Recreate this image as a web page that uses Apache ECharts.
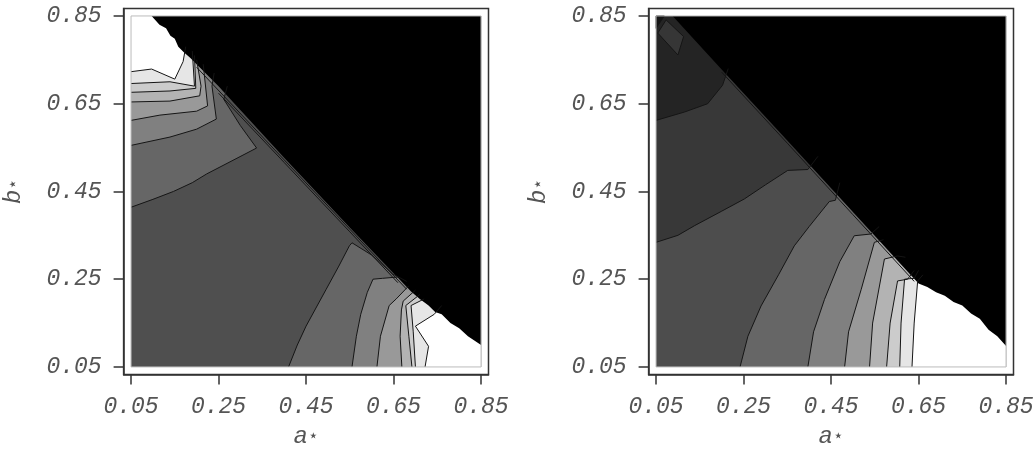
<!DOCTYPE html>
<html><head><meta charset="utf-8">
<script src="https://cdn.jsdelivr.net/npm/echarts@6/dist/echarts.min.js"></script>
<style>html,body{margin:0;padding:0;background:#fff}#c{width:1033px;height:449px}</style>
</head><body><div id="c"></div>
<script>
// ---------- data ----------
const aTicks = [0.05, 0.25, 0.45, 0.65, 0.85];
const bTicks = [0.05, 0.25, 0.45, 0.65, 0.85];

// left panel
const leftBaseLevel = 0.31;
const leftBoundary = [[0.097,0.85],[0.115,0.83],[0.13,0.822],[0.14,0.805],[0.15,0.798],[0.158,0.78],[0.17,0.768],[0.185,0.755],[0.25,0.69],[0.40,0.527],[0.55,0.368],[0.69,0.222],[0.71,0.205],[0.73,0.19],[0.745,0.175],[0.76,0.17],[0.78,0.15],[0.80,0.138],[0.82,0.12],[0.85,0.10]];
const leftTLLevels = [0.4, 0.5, 0.6, 0.7, 0.8, 0.9, 1.0];
const leftTLLines = [
  [[0.05,0.414],[0.10,0.432],[0.147,0.45],[0.19,0.47],[0.223,0.49],[0.283,0.521],[0.337,0.549],[0.30,0.60],[0.262,0.66],[0.27,0.69]],
  [[0.05,0.555],[0.139,0.574],[0.20,0.592],[0.245,0.615],[0.235,0.69],[0.24,0.72]],
  [[0.05,0.612],[0.116,0.624],[0.20,0.633],[0.225,0.645],[0.215,0.74]],
  [[0.05,0.654],[0.139,0.656],[0.207,0.668],[0.21,0.69],[0.20,0.75]],
  [[0.05,0.676],[0.139,0.679],[0.198,0.685],[0.195,0.76]],
  [[0.05,0.696],[0.139,0.70],[0.195,0.69],[0.19,0.77]],
  [[0.05,0.723],[0.097,0.729],[0.15,0.706],[0.169,0.746],[0.175,0.78]]
];
const leftBRLevels = [0.4, 0.5, 0.6, 0.7, 0.8, 0.9, 1.0];
const leftBRLines = [
  [[0.41,0.05],[0.43,0.10],[0.45,0.143],[0.496,0.227],[0.525,0.28],[0.549,0.326],[0.555,0.333],[0.60,0.305],[0.648,0.262],[0.68,0.245]],
  [[0.555,0.05],[0.565,0.12],[0.575,0.17],[0.59,0.22],[0.603,0.25],[0.625,0.252],[0.66,0.255]],
  [[0.612,0.05],[0.62,0.12],[0.64,0.19],[0.656,0.205],[0.685,0.235]],
  [[0.669,0.05],[0.665,0.12],[0.668,0.18],[0.672,0.2],[0.70,0.225]],
  [[0.692,0.05],[0.685,0.12],[0.678,0.19],[0.71,0.215]],
  [[0.70,0.05],[0.695,0.13],[0.69,0.19],[0.72,0.205]],
  [[0.722,0.05],[0.73,0.097],[0.70,0.143],[0.743,0.17],[0.76,0.19]]
];
const leftPatchLevels = [];
const leftPatches = [];
const leftBundle = [
  [[0.2,0.733],[0.4,0.522],[0.55,0.364],[0.68,0.227]],
  [[0.25,0.674],[0.4,0.516],[0.55,0.358],[0.66,0.242]]
];

// right panel
const rightBaseLevel = 0.3;
const rightBoundary = [[0.088,0.85],[0.20,0.728],[0.35,0.566],[0.50,0.403],[0.65,0.24],[0.67,0.232],[0.69,0.22],[0.71,0.212],[0.73,0.198],[0.75,0.19],[0.77,0.172],[0.79,0.16],[0.81,0.135],[0.83,0.12],[0.85,0.098]];
const rightTLLevels = [0.22, 0.14];
const rightTLLines = [
  [[0.05,0.334],[0.10,0.35],[0.138,0.372],[0.20,0.405],[0.252,0.433],[0.30,0.465],[0.351,0.498],[0.397,0.50],[0.42,0.53]],
  [[0.05,0.612],[0.115,0.631],[0.168,0.65],[0.202,0.692],[0.215,0.73]]
];
const rightBRLevels = [0.4, 0.5, 0.6, 0.7, 0.8, 0.9, 1.0];
const rightBRLines = [
  [[0.242,0.05],[0.26,0.12],[0.29,0.189],[0.33,0.26],[0.366,0.326],[0.40,0.37],[0.446,0.427],[0.46,0.43],[0.47,0.47]],
  [[0.397,0.05],[0.41,0.13],[0.435,0.204],[0.47,0.29],[0.503,0.349],[0.541,0.353],[0.56,0.37]],
  [[0.481,0.05],[0.49,0.13],[0.519,0.227],[0.549,0.334],[0.57,0.34]],
  [[0.538,0.05],[0.545,0.15],[0.572,0.296],[0.602,0.303],[0.62,0.30]],
  [[0.577,0.05],[0.585,0.15],[0.602,0.246],[0.625,0.25],[0.64,0.27]],
  [[0.607,0.05],[0.61,0.15],[0.618,0.25],[0.64,0.252],[0.65,0.27]],
  [[0.635,0.05],[0.64,0.15],[0.648,0.246],[0.66,0.26]]
];
const rightPatchLevels = [0.21, 0.08];
const rightPatches = [
  [[0.073,0.841],[0.113,0.803],[0.1,0.761],[0.054,0.811]],
  [[0.05,0.85],[0.069,0.85],[0.05,0.822]]
];
const rightBundle = [
  [[0.2,0.722],[0.35,0.56],[0.5,0.397],[0.64,0.245]]
];

// ---------- build ----------
const lo = aTicks[0], hi = aTicks[aTicks.length - 1];
function gray(l){ const v = Math.round(255 * l); return 'rgb(' + v + ',' + v + ',' + v + ')'; }

function buildPanel(base, boundary, tlLevels, tlLines, brLevels, brLines, patchLevels, patches, bundle) {
  const fills = [];
  fills.push({ pts: [[lo,lo],[hi,lo],[hi,hi],[lo,hi]], level: base });
  tlLines.forEach((ln, i) => fills.push({ pts: ln.concat([[hi,hi],[lo,hi]]), level: tlLevels[i] }));
  brLines.forEach((ln, i) => fills.push({ pts: ln.concat([[hi,hi],[hi,lo]]), level: brLevels[i] }));
  patches.forEach((p, i) => fills.push({ pts: p, level: patchLevels[i] }));
  fills.push({ pts: boundary.concat([[hi,hi]]), level: 0 });
  const lines = tlLines.concat(brLines).concat(patches.map(p => p.concat([p[0]]))).concat(bundle);
  return { fills, lines };
}

const panels = [
  buildPanel(leftBaseLevel, leftBoundary, leftTLLevels, leftTLLines, leftBRLevels, leftBRLines, leftPatchLevels, leftPatches, leftBundle),
  buildPanel(rightBaseLevel, rightBoundary, rightTLLevels, rightTLLines, rightBRLevels, rightBRLines, rightPatchLevels, rightPatches, rightBundle)
];

const pad = 0.017;
const font = '"Liberation Mono", "DejaVu Sans Mono", monospace';
const textColor = '#555';
const frameColor = '#333';
const nameRich = {
  v: { fontFamily: font, fontStyle: 'italic', fontSize: 24, color: textColor },
  s: { fontFamily: '"DejaVu Sans", sans-serif', fontSize: 17, color: textColor }
};

const grids = [], xAxes = [], yAxes = [], series = [];
const gridLefts = [123.6, 648.6];
panels.forEach((p, gi) => {
  grids.push({ left: gridLefts[gi], top: 8.5, width: 364.9, height: 365.9, outerBoundsMode: 'none', containLabel: false, show: true, borderColor: frameColor, borderWidth: 1.5, backgroundColor: '#fff' });
  xAxes.push({
    gridIndex: gi, type: 'value', min: lo - pad, max: hi + pad,
    axisLine: { show: true, lineStyle: { color: frameColor, width: 1.5 } },
    axisTick: { show: true, customValues: aTicks, length: 10, lineStyle: { color: frameColor, width: 1.5 } },
    axisLabel: { customValues: aTicks, formatter: v => v.toFixed(2), fontFamily: font, fontStyle: 'italic', fontSize: 23, color: textColor, margin: 21 },
    splitLine: { show: false },
    name: '{v|a}{s|⋆}', nameLocation: 'middle', nameGap: 50, nameTextStyle: { rich: nameRich }
  });
  yAxes.push({
    gridIndex: gi, type: 'value', min: lo - pad, max: hi + pad,
    axisLine: { show: true, lineStyle: { color: frameColor, width: 1.5 } },
    axisTick: { show: true, customValues: bTicks, length: 10, lineStyle: { color: frameColor, width: 1.5 } },
    axisLabel: { customValues: bTicks, formatter: v => v.toFixed(2), fontFamily: font, fontStyle: 'italic', fontSize: 23, color: textColor, margin: 22 },
    splitLine: { show: false },
    name: '{v|b}{s|⋆}', nameLocation: 'middle', nameGap: 98, nameTextStyle: { rich: nameRich }
  });
  series.push({
    type: 'custom', xAxisIndex: gi, yAxisIndex: gi, z: 1, silent: true, clip: false,
    data: p.fills.map(f => [f.pts[0][0], f.pts[0][1]]),
    renderItem: (params, api) => {
      const f = p.fills[params.dataIndex];
      return { type: 'polygon', shape: { points: f.pts.map(pt => api.coord(pt)) }, style: { fill: gray(f.level), stroke: null } };
    }
  });
  series.push({
    type: 'custom', xAxisIndex: gi, yAxisIndex: gi, z: 2, silent: true, clip: false,
    data: p.lines.map(l => [l[0][0], l[0][1]]),
    renderItem: (params, api) => {
      const l = p.lines[params.dataIndex];
      return { type: 'polyline', shape: { points: l.map(pt => api.coord(pt)) }, style: { stroke: '#151515', lineWidth: 1, fill: null } };
    }
  });
  series.push({
    type: 'custom', xAxisIndex: gi, yAxisIndex: gi, z: 3, silent: true, clip: false,
    data: [[lo, lo]],
    renderItem: (params, api) => ({ type: 'polygon', shape: { points: [[lo,lo],[hi,lo],[hi,hi],[lo,hi]].map(pt => api.coord(pt)) }, style: { stroke: '#bbb', lineWidth: 1, fill: null } })
  });
});

const chart = echarts.init(document.getElementById('c'), null, { renderer: 'canvas' });
chart.setOption({ animation: false, backgroundColor: '#fff', grid: grids, xAxis: xAxes, yAxis: yAxes, series: series });
</script></body></html>
